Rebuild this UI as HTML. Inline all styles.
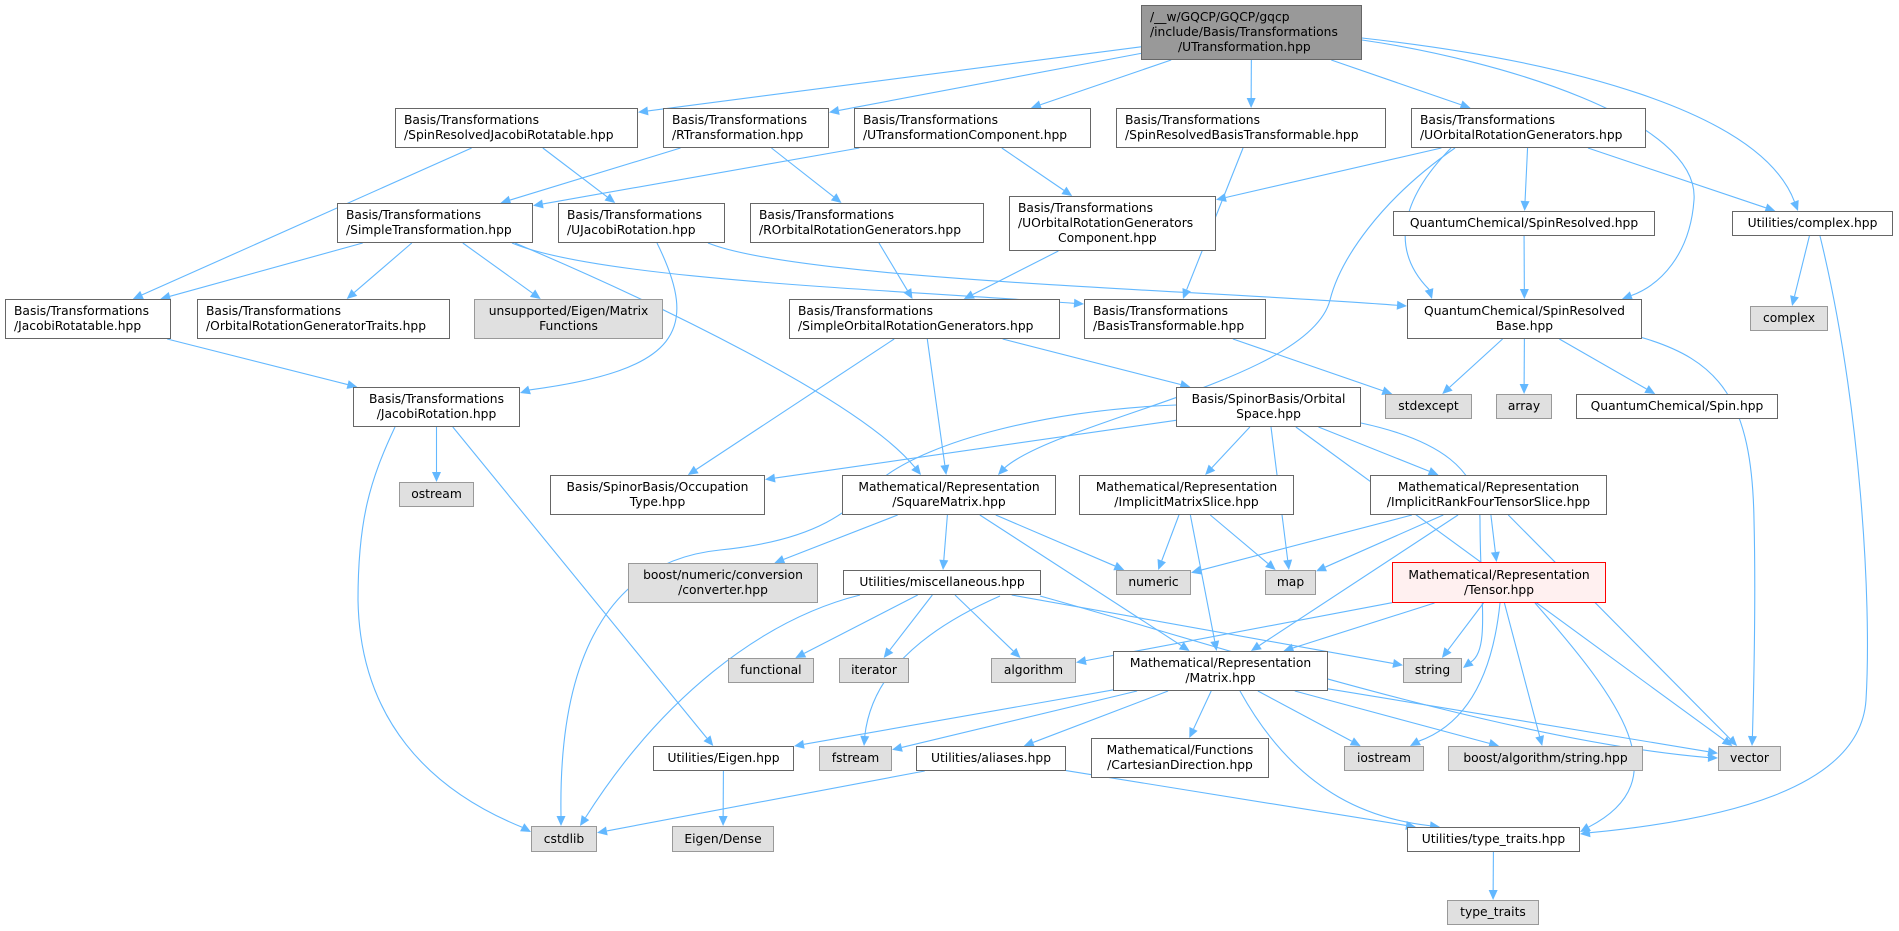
<!DOCTYPE html>
<html><head><meta charset="utf-8"><style>
body{margin:0;background:#fff;width:1899px;height:931px;overflow:hidden;position:relative;font-family:"DejaVu Sans","Liberation Sans",sans-serif;}
.n{position:absolute;box-sizing:border-box;border:1px solid #666;background:#fff;font-size:12.3px;line-height:15px;color:#000;display:flex;flex-direction:column;justify-content:center;text-align:center;white-space:nowrap;}
.l{text-align:left;padding-left:8px;}
.g{background:#e0e0e0;border-color:#999;}
.r{background:#999;border-color:#666;}
.t{background:#fff0f0;border-color:#f00;}
svg{position:absolute;left:0;top:0;}
</style></head><body>
<svg id="sv" width="1899" height="931"></svg>

<div class="n r l" id="root" style="left:1141px;top:5px;width:221px;height:55px">/__w/GQCP/GQCP/gqcp<br>/include/Basis/Transformations<br><span style="padding-left:28px">/UTransformation.hpp</span></div>

<div class="n l" id="srjr" style="left:395px;top:108px;width:243px;height:40px">Basis/Transformations<br>/SpinResolvedJacobiRotatable.hpp</div>
<div class="n l" id="rt" style="left:663px;top:108px;width:166px;height:40px">Basis/Transformations<br>/RTransformation.hpp</div>
<div class="n l" id="utc" style="left:854px;top:108px;width:237px;height:40px">Basis/Transformations<br>/UTransformationComponent.hpp</div>
<div class="n l" id="srbt" style="left:1116px;top:108px;width:270px;height:40px">Basis/Transformations<br>/SpinResolvedBasisTransformable.hpp</div>
<div class="n l" id="uorg" style="left:1411px;top:108px;width:235px;height:40px">Basis/Transformations<br>/UOrbitalRotationGenerators.hpp</div>

<div class="n l" id="st" style="left:337px;top:203px;width:196px;height:40px">Basis/Transformations<br>/SimpleTransformation.hpp</div>
<div class="n l" id="ujr" style="left:558px;top:203px;width:167px;height:40px">Basis/Transformations<br>/UJacobiRotation.hpp</div>
<div class="n l" id="rorg" style="left:750px;top:203px;width:234px;height:40px">Basis/Transformations<br>/ROrbitalRotationGenerators.hpp</div>
<div class="n l" id="uorgc" style="left:1009px;top:196px;width:207px;height:55px">Basis/Transformations<br>/UOrbitalRotationGenerators<br><span style="padding-left:40px">Component.hpp</span></div>
<div class="n" id="qcsr" style="left:1393px;top:211px;width:262px;height:25px">QuantumChemical/SpinResolved.hpp</div>
<div class="n" id="ucx" style="left:1732px;top:211px;width:161px;height:25px">Utilities/complex.hpp</div>

<div class="n l" id="jrt" style="left:5px;top:299px;width:166px;height:40px">Basis/Transformations<br>/JacobiRotatable.hpp</div>
<div class="n l" id="orgt" style="left:197px;top:299px;width:253px;height:40px">Basis/Transformations<br>/OrbitalRotationGeneratorTraits.hpp</div>
<div class="n g" id="unsup" style="left:474px;top:299px;width:189px;height:40px">unsupported/Eigen/Matrix<br>Functions</div>
<div class="n l" id="sorg" style="left:789px;top:299px;width:271px;height:40px">Basis/Transformations<br>/SimpleOrbitalRotationGenerators.hpp</div>
<div class="n l" id="bt" style="left:1084px;top:299px;width:182px;height:40px">Basis/Transformations<br>/BasisTransformable.hpp</div>
<div class="n" id="srb" style="left:1407px;top:299px;width:235px;height:40px">QuantumChemical/SpinResolved<br>Base.hpp</div>
<div class="n g" id="cx" style="left:1750px;top:306px;width:78px;height:25px">complex</div>

<div class="n" id="jr" style="left:353px;top:387px;width:167px;height:40px">Basis/Transformations<br>/JacobiRotation.hpp</div>
<div class="n" id="os" style="left:1176px;top:387px;width:185px;height:40px">Basis/SpinorBasis/Orbital<br>Space.hpp</div>
<div class="n g" id="stdex" style="left:1385px;top:394px;width:87px;height:25px">stdexcept</div>
<div class="n g" id="arr" style="left:1496px;top:394px;width:56px;height:25px">array</div>
<div class="n" id="spin" style="left:1576px;top:394px;width:202px;height:25px">QuantumChemical/Spin.hpp</div>

<div class="n g" id="ost" style="left:399px;top:482px;width:75px;height:25px">ostream</div>
<div class="n" id="occ" style="left:550px;top:475px;width:215px;height:40px">Basis/SpinorBasis/Occupation<br>Type.hpp</div>
<div class="n" id="sq" style="left:842px;top:475px;width:214px;height:40px">Mathematical/Representation<br>/SquareMatrix.hpp</div>
<div class="n" id="ims" style="left:1079px;top:475px;width:215px;height:40px">Mathematical/Representation<br>/ImplicitMatrixSlice.hpp</div>
<div class="n" id="irf" style="left:1370px;top:475px;width:237px;height:40px">Mathematical/Representation<br>/ImplicitRankFourTensorSlice.hpp</div>

<div class="n g" id="bnc" style="left:628px;top:563px;width:190px;height:40px">boost/numeric/conversion<br>/converter.hpp</div>
<div class="n" id="misc" style="left:843px;top:570px;width:198px;height:25px">Utilities/miscellaneous.hpp</div>
<div class="n g" id="num" style="left:1116px;top:570px;width:75px;height:25px">numeric</div>
<div class="n g" id="map" style="left:1265px;top:570px;width:51px;height:25px">map</div>
<div class="n t" id="ten" style="left:1392px;top:562px;width:214px;height:41px">Mathematical/Representation<br>/Tensor.hpp</div>

<div class="n g" id="fun" style="left:728px;top:658px;width:86px;height:25px">functional</div>
<div class="n g" id="itr" style="left:839px;top:658px;width:70px;height:25px">iterator</div>
<div class="n g" id="alg" style="left:991px;top:658px;width:85px;height:25px">algorithm</div>
<div class="n" id="mat" style="left:1113px;top:651px;width:215px;height:40px">Mathematical/Representation<br>/Matrix.hpp</div>
<div class="n g" id="str" style="left:1403px;top:658px;width:59px;height:25px">string</div>

<div class="n" id="eig" style="left:653px;top:746px;width:141px;height:25px">Utilities/Eigen.hpp</div>
<div class="n g" id="fst" style="left:819px;top:746px;width:73px;height:25px">fstream</div>
<div class="n" id="ali" style="left:916px;top:746px;width:150px;height:25px">Utilities/aliases.hpp</div>
<div class="n" id="cart" style="left:1091px;top:738px;width:178px;height:40px">Mathematical/Functions<br>/CartesianDirection.hpp</div>
<div class="n g" id="ios" style="left:1344px;top:746px;width:80px;height:25px">iostream</div>
<div class="n g" id="bas" style="left:1448px;top:746px;width:195px;height:25px">boost/algorithm/string.hpp</div>
<div class="n g" id="vec" style="left:1718px;top:746px;width:63px;height:25px">vector</div>

<div class="n g" id="cst" style="left:531px;top:826px;width:66px;height:26px">cstdlib</div>
<div class="n g" id="ed" style="left:672px;top:826px;width:102px;height:26px">Eigen/Dense</div>
<div class="n" id="utt" style="left:1407px;top:827px;width:173px;height:25px">Utilities/type_traits.hpp</div>
<div class="n g" id="tt" style="left:1447px;top:900px;width:92px;height:25px">type_traits</div>

<script>
(function(){
var C="#63b8ff",sv=document.getElementById("sv"),NS="http://www.w3.org/2000/svg";
function R(id){var e=document.getElementById(id);return{x:e.offsetLeft,y:e.offsetTop,w:e.offsetWidth,h:e.offsetHeight};}
function clip(r,px,py,qx,qy){var cx=r.x+r.w/2,cy=r.y+r.h/2,dx=qx-cx,dy=qy-cy;var tx=dx?(r.w/2)/Math.abs(dx):1e9,ty=dy?(r.h/2)/Math.abs(dy):1e9,t=Math.min(tx,ty,1);return[cx+dx*t,cy+dy*t];}
function arrow(x,y,fx,fy){var dx=x-fx,dy=y-fy,L=Math.hypot(dx,dy)||1;dx/=L;dy/=L;var bx=x-dx*10,by=y-dy*10;var p=document.createElementNS(NS,"polygon");p.setAttribute("points",x+","+y+" "+(bx-dy*4.5)+","+(by+dx*4.5)+" "+(bx+dy*4.5)+","+(by-dx*4.5));p.setAttribute("fill",C);sv.appendChild(p);return[bx,by];}
function path(d){var p=document.createElementNS(NS,"path");p.setAttribute("d",d);p.setAttribute("stroke",C);p.setAttribute("fill","none");p.setAttribute("stroke-width","1.1");sv.appendChild(p);}
function E(a,b){var A=R(a),B=R(b);var ac=[A.x+A.w/2,A.y+A.h/2],bc=[B.x+B.w/2,B.y+B.h/2];var s=clip(A,0,0,bc[0],bc[1]),t=clip(B,0,0,ac[0],ac[1]);var e=arrow(t[0],t[1],s[0],s[1]);path("M"+s[0]+","+s[1]+"L"+e[0]+","+e[1]);}
function P(d,tx,ty,fx,fy){var e=arrow(tx,ty,fx,fy);path(d+" "+e[0]+","+e[1]);}
var es=[["root","srjr"],["root","rt"],["root","utc"],["root","srbt"],["root","uorg"],
["srjr","jrt"],["srjr","ujr"],["rt","st"],["rt","rorg"],["utc","st"],["utc","uorgc"],["srbt","bt"],
["uorg","uorgc"],["uorg","qcsr"],["uorg","ucx"],
["st","jrt"],["st","orgt"],["st","unsup"],
["rorg","sorg"],["uorgc","sorg"],["qcsr","srb"],["ucx","cx"],["jrt","jr"],
["sorg","occ"],["sorg","sq"],["sorg","os"],["bt","stdex"],["srb","stdex"],["srb","arr"],["srb","spin"],
["jr","ost"],["jr","eig"],["os","occ"],["os","ims"],["os","map"],["os","irf"],["os","vec"],
["sq","bnc"],["sq","misc"],["sq","num"],["sq","mat"],["ims","num"],["ims","mat"],["ims","map"],
["irf","num"],["irf","map"],["irf","mat"],["irf","ten"],["irf","vec"],
["ten","alg"],["ten","mat"],["ten","str"],["ten","bas"],
["misc","fun"],["misc","itr"],["misc","alg"],["misc","str"],
["mat","eig"],["mat","fst"],["mat","ali"],["mat","cart"],["mat","ios"],["mat","bas"],["mat","vec"],
["eig","ed"],["ali","cst"],["ali","utt"],["utt","tt"]];
es.forEach(function(e){E(e[0],e[1]);});
P("M1362,40 C1500,60 1700,120 1694,200 C1690,255 1660,285",1622,299,1660,285);
P("M1362,38 C1560,60 1760,110",1798,211,1760,110);
P("M1451,148 C1400,200 1390,250",1432,299,1420,260);
P("M1455,148 C1380,200 1340,260 1330,300 C1310,380 1060,420",998,475,1040,430);
P("M1640,337 C1720,360 1752,400 1754,520 C1756,600 1754,680",1752,746,1754,700);
P("M1820,236 C1860,400 1872,600 1866,700 C1860,790 1720,820",1580,834,1650,825);
P("M395,427 C370,480 358,520 358,600 C360,720 430,790",531,832,490,810);
P("M1176,405 C1050,410 930,440 880,480 C850,510 820,540 720,550 C620,560 558,640",561,826,561,790);
P("M1361,423 C1440,440 1480,470 1480,520 C1480,600 1490,650",1463,668,1480,655);
P("M708,243 C800,280 1200,290",1407,306,1300,298);
P("M657,243 C700,330 680,370",520,393,560,380);
P("M512,243 C600,280 900,290",1084,304,1000,298);
P("M515,243 C650,300 860,400",921,475,905,455);
P("M860,595 C760,620 660,700",580,826,610,780);
P("M1000,596 C900,640 870,690",864,746,866,720);
P("M1040,596 C1200,640 1500,740",1718,758,1650,755);
P("M1240,691 C1300,800 1380,820",1440,827,1400,822);
P("M1535,603 C1620,700 1680,780",1580,832,1610,815);
P("M1500,603 C1490,700 1450,730",1410,746,1430,735);
})();
</script>
</body></html>
